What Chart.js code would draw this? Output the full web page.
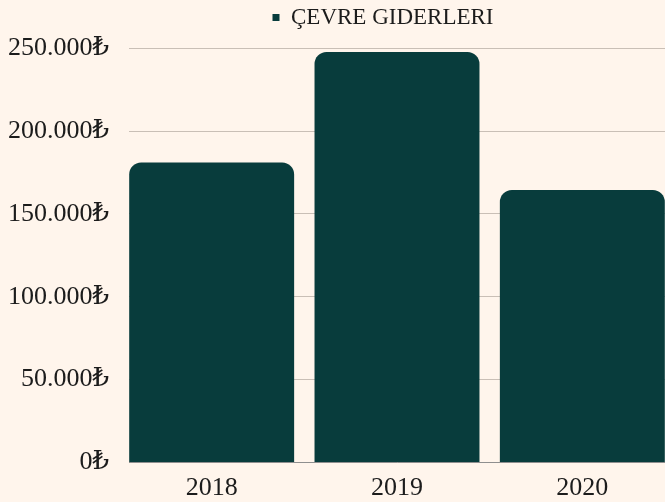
<!DOCTYPE html>
<html>
<head>
<meta charset="utf-8">
<script src="https://cdn.jsdelivr.net/npm/chart.js@4/dist/chart.umd.min.js"></script>
<style>
  html, body { margin: 0; padding: 0; background: #fff5ec; overflow: hidden; }
  #wrap { width: 665px; height: 502px; overflow: hidden; }
  canvas { display: block; }
</style>
</head>
<body>
<div id="wrap"><canvas id="chart" width="675" height="502"></canvas></div>
<script>
// --- data ---
const years = ['2018', '2019', '2020'];
const expenses = [181000, 247700, 164500];
const yTicks = [0, 50000, 100000, 150000, 200000, 250000];
const seriesLabel = 'ÇEVRE GIDERLERI';

const BG = '#fff5ec';
const BAR = '#083c3c';
const GRID = '#c9bfb6';
const TEXT = '#1c1c1c';
const FONT = "'Liberation Serif', 'DejaVu Serif', serif";

function formatTL(v) {
  return String(v).replace(/\B(?=(\d{3})+(?!\d))/g, '.') + '₺';
}

// the chart runs 10px past the window on the right; grid lines start at the first bar
const edgeMask = {
  id: 'edgeMask',
  afterLayout(chart) {
    // legend sits right of centre in the reference
    const lg = chart.legend;
    lg.left = 766 - lg.right;
  },
  beforeDatasetsDraw(chart) {
    const { ctx, chartArea } = chart;
    ctx.save();
    ctx.fillStyle = BG;
    ctx.fillRect(chartArea.left - 1, chartArea.top - 2, 11, chartArea.bottom - chartArea.top + 4);
    ctx.restore();
  }
};

new Chart(document.getElementById('chart'), {
  type: 'bar',
  data: {
    labels: years,
    datasets: [{
      label: seriesLabel,
      data: expenses,
      backgroundColor: BAR,
      borderRadius: { topLeft: 12, topRight: 12 },
      borderSkipped: 'bottom',
      categoryPercentage: 1,
      barPercentage: 0.89,
    }]
  },
  options: {
    responsive: false,
    animation: false,
    plugins: {
      legend: {
        position: 'top',
        labels: {
          color: TEXT,
          font: { family: FONT, size: 23 },
          boxWidth: 7,
          boxHeight: 7,
          padding: 6,
        }
      },
      // empty subtitle used as a spacer between legend and plot
      subtitle: {
        display: true,
        text: ' ',
        weight: 500,
        font: { size: 1 },
        padding: { top: 0, bottom: 8 }
      },
      tooltip: { enabled: false }
    },
    scales: {
      x: {
        afterFit: scale => { scale.height = 39.5; },
        grid: { display: false, drawTicks: false },
        border: { display: true, color: '#8f8f8f', width: 1 },
        ticks: { color: TEXT, font: { family: FONT, size: 26 }, padding: 10 }
      },
      y: {
        min: 0,
        max: 250000,
        afterBuildTicks: scale => { scale.ticks = yTicks.map(v => ({ value: v })); },
        afterFit: scale => { scale.width = 119; },
        grid: { color: GRID, drawTicks: false },
        border: { display: false },
        ticks: {
          color: TEXT,
          font: { family: FONT, size: 26 },
          padding: 10,
          callback: v => formatTL(v)
        }
      }
    }
  },
  plugins: [edgeMask]
});
</script>
</body>
</html>
